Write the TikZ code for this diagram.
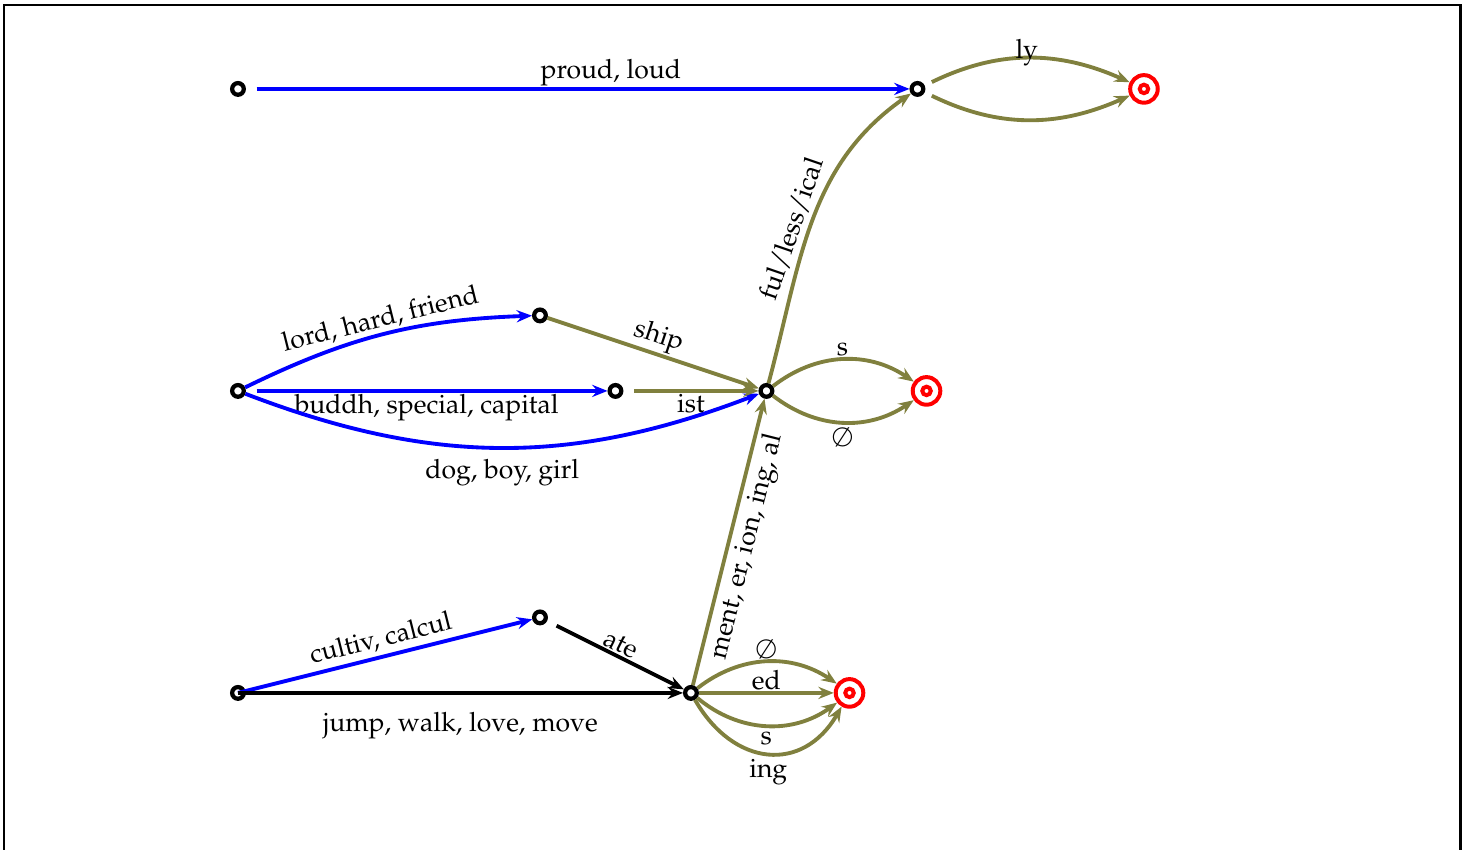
\documentclass[tikz,border=0pt]{standalone}
\usepackage[T1]{fontenc}
\usepackage{mathpazo}
\usetikzlibrary{arrows.meta}
\definecolor{sfxolive}{RGB}{128,128,62}

\begin{document}
\begin{tikzpicture}[x=2cm, y=2cm,
		st/.style={circle, draw, line width=1.6pt, minimum size=4.4pt, inner sep=0pt, fill=white},
		fin/.style={circle, draw=red, line width=1.5pt, minimum size=10.4pt, inner sep=0pt, fill=white,
			path picture={\draw[red, line width=1.5pt] (path picture bounding box.center) circle (1.6pt);}},
		edge/.style={line width=1.45pt, -{Stealth[length=5.8pt, width=4.6pt, inset=2pt]}},
		stem/.style={edge, blue},
		sfx/.style={edge, sfxolive},
		lbl/.style={inner sep=0.5pt, text=black}]
			\useasboundingbox (-1.576,-1.040) rectangle (8.146,4.589);
			\draw[line width=1pt] (-1.55,-1.5) rectangle (8.096,4.556);
			
			% states
			\node[st] (A1) at (0, 4) {};
			\node[st] (A2) at (4.5, 4) {};
			\node[fin] (F1) at (6, 4) {};
			
			\node[st] (B0) at (0, 2) {};
			\node[st] (B1) at (2, 2.5) {};
			\node[st] (B2) at (2.5, 2) {};
			\node[st] (B3) at (3.5, 2) {};
			\node[fin] (F2) at (4.56, 2) {};
			
			\node[st] (C0) at (0, 0) {};
			\node[st] (C1) at (2, 0.5) {};
			\node[st] (C2) at (3, 0) {};
			\node[fin] (F3) at (4.05, 0) {};
			
			% top row
			\draw[stem, shorten <=4pt] (A1) -- node[lbl, above, pos=0.55] {proud, loud} (A2);
			\draw[sfx, shorten <=3pt] (A2) to[bend left=25] node[lbl, anchor=base] {ly} (F1);
			\draw[sfx, shorten <=3pt] (A2) to[bend right=25] (F1);
			
			% middle row
			\draw[stem] (B0) to[bend left=12] node[lbl, above, sloped] {lord, hard, friend} (B1);
			\draw[stem, shorten <=4pt] (B0) -- node[lbl, below] {buddh, special, capital} (B2);
			\draw[stem] (B0) to[bend right=21] node[lbl, below=3pt] {dog, boy, girl} (B3);
			\draw[sfx] (B1) -- node[lbl, above, sloped] {ship} (B3);
			\draw[sfx, shorten <=4pt] (B2) -- node[lbl, below] {ist} (B3);
			\draw[sfx] (B3) to[out=75, in=215] node[lbl, above=1pt, sloped, pos=0.45] {ful/less/ical} (A2);
			\draw[sfx] (B3) to[bend left=36] node[lbl, above] {s} (F2);
			\draw[sfx] (B3) to[bend right=36] node[lbl, below=1pt] {$\emptyset$} (F2);
			
			% bottom row
			\draw[stem] (C0.center) -- node[lbl, above=1pt, sloped] {cultiv, calcul} (C1);
			\draw[edge] (C0.center) -- node[lbl, below=6pt] {jump, walk, love, move} (C2);
			\draw[edge, shorten <=4pt] (C1) -- node[lbl, above, sloped] {ate} (C2);
			\draw[sfx] (C2) -- node[lbl, below=1pt, sloped] {ment, er, ion, ing, al} (B3);
			\draw[sfx] (C2) to[bend left=36] node[lbl, above] {$\emptyset$} (F3);
			\draw[sfx] (C2) -- node[lbl, above] {ed} (F3);
			\draw[sfx] (C2) to[bend right=38] node[lbl, below=1pt] {s} (F3);
			\draw[sfx] (C2) to[out=-60, in=-120, looseness=1.35] node[lbl, below=1pt] {ing} (F3);
		\end{tikzpicture}
\end{document}
